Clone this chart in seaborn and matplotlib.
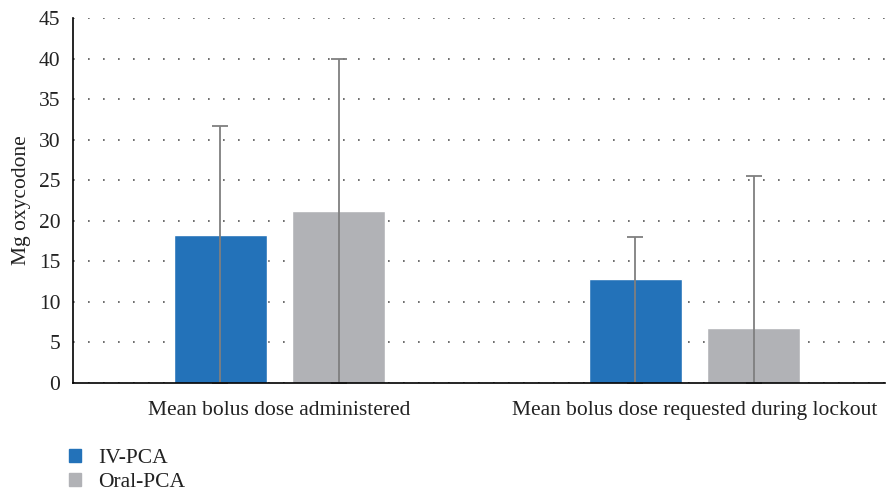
import matplotlib
matplotlib.use("Agg")
import matplotlib.pyplot as plt
import pandas as pd
import numpy as np
import seaborn as sns

# values
categories = ["Mean bolus dose administered", "Mean bolus dose requested during lockout"]
groups = ["IV-PCA", "Oral-PCA"]
iv_mean = [18.3, 12.8]
oral_mean = [21.2, 6.8]
iv_err = [13.4, 5.2]
oral_err = [18.8, 18.7]
colors = ["#2372b9", "#b1b2b6"]

df = pd.DataFrame({
    "category": categories * 2,
    "group": [groups[0]] * 2 + [groups[1]] * 2,
    "value": iv_mean + oral_mean,
    "err": iv_err + oral_err,
})

sns.set_style("white")
plt.rcParams["font.family"] = ["Liberation Serif", "DejaVu Serif"]

fig = plt.figure(figsize=(8.89, 4.92), dpi=100)
ax = fig.add_axes([0.0821, 0.2215, 0.9134, 0.7419])

sns.barplot(data=df, x="category", y="value", hue="group", order=categories,
            hue_order=groups, palette=colors, width=0.569, gap=0.21,
            errorbar=None, saturation=1, ax=ax, legend=False)

# error bars drawn from zero up to mean + err, centred on each bar
for i, g in enumerate(groups):
    sub = df[df["group"] == g].set_index("category").loc[categories]
    bars = ax.patches[i * len(categories):(i + 1) * len(categories)]
    xs = [b.get_x() + b.get_width() / 2 for b in bars]
    ax.errorbar(xs, sub["value"], yerr=[sub["value"], sub["err"]], fmt="none",
                ecolor="#7f7f7f", elinewidth=1.3, capsize=6, capthick=1.3)

ax.set_ylim(0, 45)
ax.set_yticks(np.arange(0, 46, 5))
ax.set_xlim(-0.4976, 1.459)
ax.yaxis.grid(True, linestyle=(0, (1, 8)), color="#555555", linewidth=1.2)
ax.set_axisbelow(True)
for s in ["top", "right"]:
    ax.spines[s].set_visible(False)
for s in ["left", "bottom"]:
    ax.spines[s].set_color("black")
    ax.spines[s].set_linewidth(1.2)
ax.tick_params(axis="both", length=0, labelsize=15.5, colors="#222222")
ax.tick_params(axis="x", pad=13)
ax.tick_params(axis="y", pad=9)
ax.set_xlabel("")
ax.set_ylabel("Mg oxycodone", fontsize=15.5, color="#222222", labelpad=6)

handles = [plt.Rectangle((0, 0), 1, 1, color=c) for c in colors]
fig.legend(handles, groups, loc="upper left", bbox_to_anchor=(0.066, 0.11),
           frameon=False, fontsize=15.5, handlelength=0.55, handleheight=0.55,
           handletextpad=0.8, labelspacing=0.25, borderpad=0, labelcolor="#222222")

fig.savefig("out.png", dpi=100)
